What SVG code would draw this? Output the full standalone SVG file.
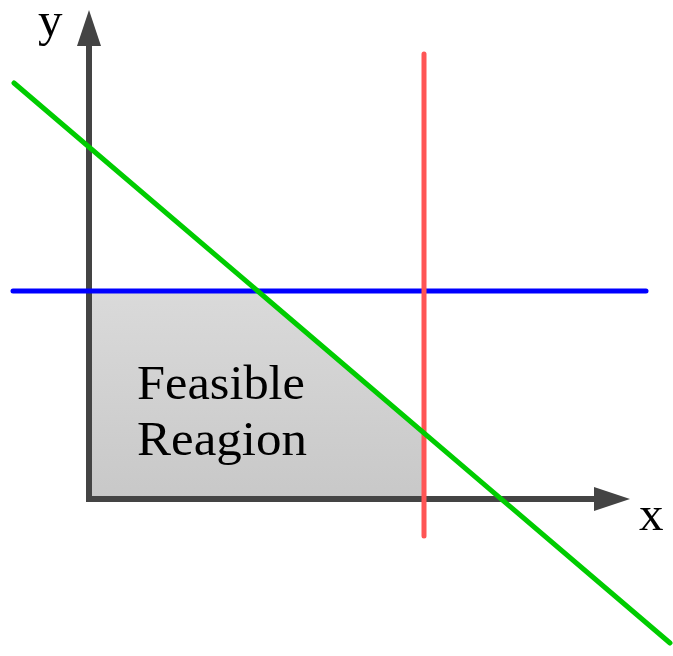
<svg xmlns="http://www.w3.org/2000/svg" width="673" height="656" viewBox="0 0 673 656">
<defs>
<linearGradient id="fill" x1="0" y1="0" x2="0" y2="1">
<stop offset="0" stop-color="#dadada"/>
<stop offset="1" stop-color="#c8c8c8"/>
</linearGradient>
<style>
.lbl{font-family:"Liberation Serif","DejaVu Serif",serif;font-size:49px;fill:#000}
.axis{stroke:#444;stroke-width:6;fill:none}
.head{fill:#444}
</style>
</defs>
<rect width="673" height="656" fill="#fff"/>
<g id="region">
<polygon points="89,291 258,291 424,433 424,499 89,499" fill="url(#fill)"/>
<text class="lbl" x="137" y="399" textLength="168" lengthAdjust="spacingAndGlyphs">Feasible</text>
<text class="lbl" x="137" y="455" textLength="170" lengthAdjust="spacingAndGlyphs">Reagion</text>
</g>
<g id="axes">
<line class="axis" x1="89" y1="502" x2="89" y2="44"/>
<polygon class="head" points="89,10 101,46 77,46"/>
<line class="axis" x1="86" y1="499" x2="596" y2="499"/>
<polygon class="head" points="630,499 594,487 594,511"/>
<text class="lbl" x="38" y="36">y</text>
<text class="lbl" x="639" y="530">x</text>
</g>
<g id="connectors" fill="none" stroke-linecap="round" stroke-width="5">
<line x1="13" y1="291" x2="646" y2="291" stroke="#0000ff"/>
<line x1="424" y1="54" x2="424" y2="536" stroke="#ff5555"/>
<line x1="14" y1="83" x2="670" y2="643" stroke="#00cc00"/>
</g>
</svg>
